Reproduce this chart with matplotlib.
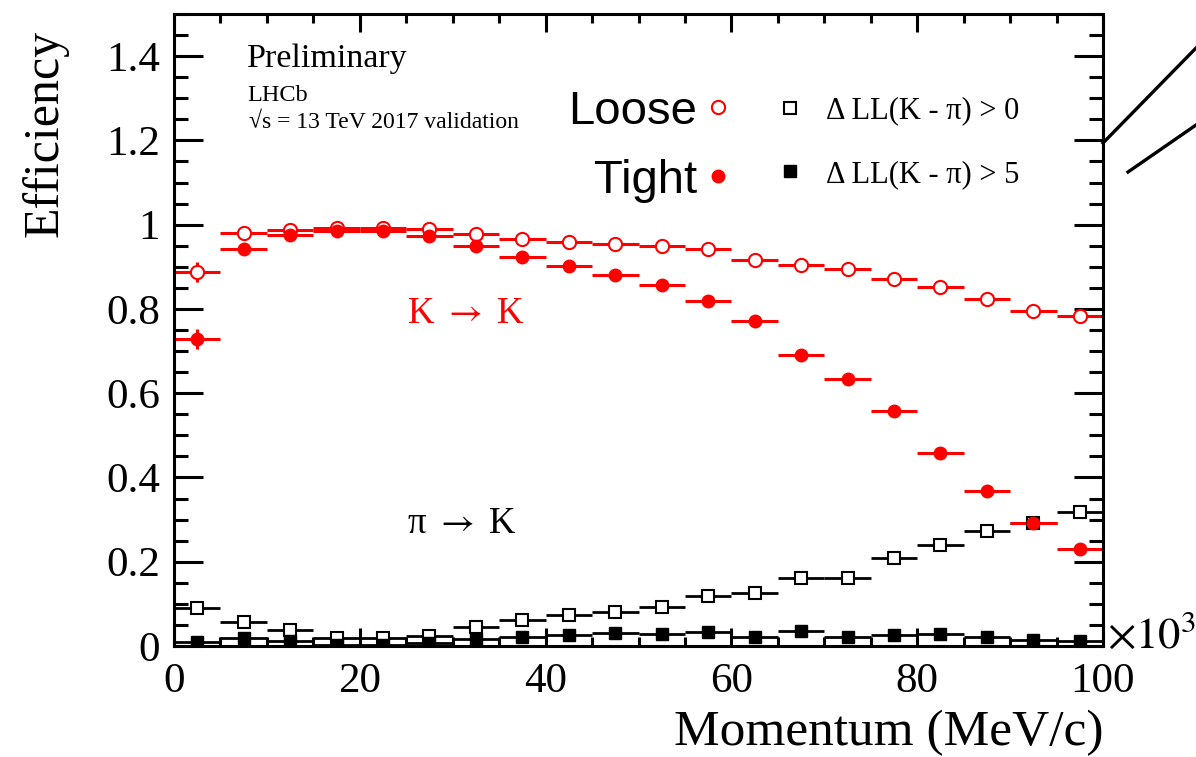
import matplotlib
matplotlib.use("Agg")
import matplotlib.pyplot as plt
from matplotlib.lines import Line2D
from matplotlib.ticker import MultipleLocator, FuncFormatter

plt.rcParams['font.family'] = ['Liberation Serif', 'DejaVu Serif']
plt.rcParams['mathtext.fontset'] = 'stix'

# momentum bins (x10^3 MeV/c), 5 GeV wide
p_centers = [2.5, 7.5, 12.5, 17.5, 22.5, 27.5, 32.5, 37.5, 42.5, 47.5,
             52.5, 57.5, 62.5, 67.5, 72.5, 77.5, 82.5, 87.5, 92.5, 97.5]
p_halfwidth = [2.5] * 20

# K -> K efficiency
k_loose = [0.887, 0.980, 0.988, 0.993, 0.991, 0.990, 0.979, 0.967, 0.960, 0.954,
           0.949, 0.943, 0.917, 0.904, 0.895, 0.870, 0.851, 0.823, 0.794, 0.783]
k_tight = [0.728, 0.943, 0.976, 0.984, 0.984, 0.974, 0.950, 0.923, 0.901, 0.880,
           0.857, 0.819, 0.771, 0.691, 0.634, 0.557, 0.458, 0.368, 0.293, 0.231]
k_err = [0.024, 0.004, 0.003, 0.003, 0.003, 0.003, 0.003, 0.003, 0.003, 0.003,
         0.003, 0.004, 0.004, 0.004, 0.005, 0.005, 0.005, 0.006, 0.006, 0.006]

# pi -> K mis-id rate
pi_loose = [0.091, 0.058, 0.038, 0.019, 0.018, 0.024, 0.046, 0.062, 0.074, 0.081,
            0.093, 0.118, 0.125, 0.161, 0.162, 0.208, 0.240, 0.274, 0.293, 0.318]
pi_tight = [0.010, 0.018, 0.013, 0.003, 0.003, 0.007, 0.017, 0.022, 0.026, 0.030,
            0.028, 0.034, 0.022, 0.036, 0.022, 0.026, 0.028, 0.021, 0.014, 0.012]
pi_err = [0.004, 0.003, 0.002, 0.002, 0.002, 0.002, 0.002, 0.002, 0.002, 0.002,
          0.002, 0.003, 0.003, 0.003, 0.003, 0.004, 0.004, 0.004, 0.005, 0.005]

W, H = 1196, 757
fig = plt.figure(figsize=(W / 100, H / 100), dpi=100)
ax = fig.add_axes([174 / W, 1 - 646 / H, (1103 - 174) / W, (646 - 14) / H])

red = '#ff0000'
ebkw = dict(capsize=0, linestyle='none')

# pi -> K first so the red points sit on top
ax.errorbar(p_centers, pi_loose, xerr=p_halfwidth, yerr=pi_err, color='black',
            elinewidth=2.0, marker='s', ms=9, mfc='white', mec='black', mew=1.5, **ebkw)
ax.errorbar(p_centers, pi_tight, xerr=p_halfwidth, yerr=pi_err, color='black',
            elinewidth=2.0, marker='s', ms=9, mfc='black', mec='black', **ebkw)
ax.errorbar(p_centers, k_loose, xerr=p_halfwidth, yerr=k_err, color=red,
            elinewidth=2.2, marker='o', ms=9.5, mfc='white', mec=red, mew=1.5, **ebkw)
ax.errorbar(p_centers, k_tight, xerr=p_halfwidth, yerr=k_err, color=red,
            elinewidth=2.2, marker='o', ms=9, mfc=red, mec=red, **ebkw)

ax.set_xlim(0, 100)
ax.set_ylim(0, 1.5)
ax.xaxis.set_major_locator(MultipleLocator(20))
ax.xaxis.set_minor_locator(MultipleLocator(5))
ax.yaxis.set_major_locator(MultipleLocator(0.2))
ax.yaxis.set_minor_locator(MultipleLocator(0.05))
ax.yaxis.set_major_formatter(FuncFormatter(lambda v, pos: '%g' % round(v, 2)))
ax.xaxis.set_major_formatter(FuncFormatter(lambda v, pos: '%g' % v))

for s in ax.spines.values():
    s.set_linewidth(2.2)
ax.tick_params(which='both', direction='in', top=True, right=True, width=2.2,
               labelsize=31)
ax.tick_params(axis='x', which='major', length=13, pad=12)
ax.tick_params(axis='x', which='minor', length=6.5)
ax.tick_params(axis='y', which='major', length=21, pad=10)
ax.tick_params(axis='y', which='minor', length=10)

fig.text(45 / W, 1 - 30 / H, 'Efficiency', rotation=90, ha='center', va='top', fontsize=36)
fig.text(1103 / W, 1 - 745 / H, 'Momentum (MeV/c)', ha='right', va='baseline', fontsize=37)
fig.text(1107 / W, 1 - 648 / H, r'$\times10^{3}$', ha='left', va='baseline', fontsize=32)

fig.text(247 / W, 1 - 67 / H, 'Preliminary', fontsize=24.5, va='baseline')
fig.text(247 / W, 1 - 101 / H, 'LHCb', fontsize=17.5, va='baseline')
fig.text(249 / W, 1 - 128 / H, '\u221as = 13 TeV 2017 validation',
         fontsize=17, va='baseline')

fig.text(407 / W, 1 - 323 / H, r'K $\rightarrow$ K', color=red, fontsize=26.5, va='baseline')
fig.text(407 / W, 1 - 533 / H, '\u03c0 $\\rightarrow$ K', color='black', fontsize=26.5,
         va='baseline')

# legends: selection working points and the DLL cuts
h_loose = Line2D([], [], ls='none', marker='o', ms=9.5, mfc='white', mec=red, mew=1.5)
h_tight = Line2D([], [], ls='none', marker='o', ms=9, mfc=red, mec=red)
leg1 = fig.legend([h_loose, h_tight], ['Loose', 'Tight'], markerfirst=False,
                  loc='upper right', bbox_to_anchor=(756 / W, 1 - 66 / H),
                  frameon=False, borderpad=0, handlelength=0.6, handletextpad=0.15,
                  labelspacing=0.53, prop={'family': 'Liberation Sans', 'size': 34})

h_dll0 = Line2D([], [], ls='none', marker='s', ms=9, mfc='white', mec='black', mew=1.5)
h_dll5 = Line2D([], [], ls='none', marker='s', ms=9, mfc='black', mec='black')
leg2 = fig.legend([h_dll0, h_dll5],
                  ['\u0394 LL(K - \u03c0) > 0', '\u0394 LL(K - \u03c0) > 5'],
                  loc='upper left', bbox_to_anchor=(759 / W, 1 - 81 / H),
                  frameon=False, borderpad=0, handlelength=1.0, handletextpad=0.7,
                  labelspacing=1.13, fontsize=22)

# the two slanted strokes at the upper right edge
fig.add_artist(Line2D([1103 / W, 1.0], [1 - 143 / H, 1 - 48 / H],
                      transform=fig.transFigure, color='black', lw=2.4))
fig.add_artist(Line2D([1128 / W, 1.0], [1 - 172 / H, 1 - 125 / H],
                      transform=fig.transFigure, color='black', lw=2.4))

fig.savefig('out.png', dpi=100)
